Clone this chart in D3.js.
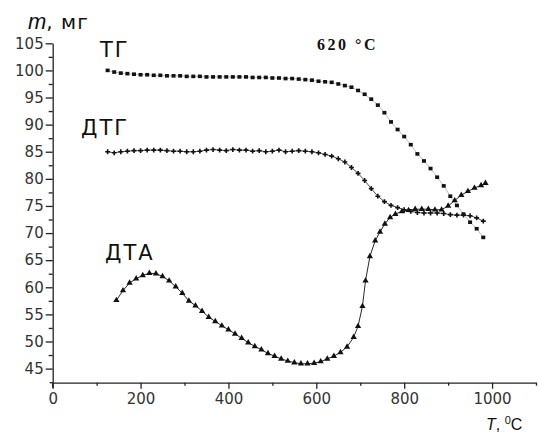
<!DOCTYPE html>
<html>
<head>
<meta charset="utf-8">
<script src="https://cdn.jsdelivr.net/npm/d3@7/dist/d3.min.js"></script>
<style>
    body { margin: 0; background: #fff; }
    svg { display: block; }
</style>
</head>
<body>
<svg id="chart"></svg>
<script>
// temperatures of the TG / DTG readings, °C
const thermoTemp = [125, 140, 155, 170, 185, 200, 215, 230, 245, 260, 275, 290, 305, 320, 335,
    350, 365, 380, 395, 410, 425, 440, 455, 470, 485, 500, 515, 530, 545, 560, 575, 590, 605,
    620, 635, 650, 665, 680, 695, 710, 725, 740, 755, 770, 785, 800, 815, 830, 845, 860, 875,
    890, 905, 920, 935, 950, 965, 980]

// ТГ
const tgMass = [100.0, 99.7, 99.5, 99.4, 99.3, 99.2, 99.2, 99.1, 99.1, 99.0, 99.0, 99.0, 98.9,
    98.9, 98.9, 98.8, 98.8, 98.8, 98.8, 98.8, 98.8, 98.8, 98.7, 98.7, 98.7, 98.6, 98.6, 98.5,
    98.5, 98.4, 98.3, 98.2, 98.0, 97.9, 97.8, 97.5, 97.2, 96.9, 96.3, 95.6, 94.7, 93.6, 92.2,
    90.5, 89.1, 87.8, 86.3, 84.6, 83.3, 81.9, 80.3, 78.7, 76.8, 75.1, 73.5, 72.0, 70.8, 69.2]

// ДТГ
const dtgValue = [85.0, 84.8, 85.0, 85.1, 85.2, 85.2, 85.3, 85.3, 85.3, 85.2, 85.1, 85.1, 85.0,
    85.0, 85.1, 85.3, 85.4, 85.3, 85.2, 85.4, 85.3, 85.3, 85.1, 85.2, 85.0, 85.1, 85.3, 85.0,
    85.1, 85.2, 85.1, 85.0, 84.8, 84.5, 84.2, 83.7, 83.1, 82.1, 81.0, 79.7, 78.2, 76.8, 75.8,
    75.1, 74.7, 74.3, 74.0, 73.8, 73.7, 73.7, 73.7, 73.6, 73.4, 73.3, 73.3, 73.2, 72.8, 72.2]

// ДТА
const dtaTemp = [145, 160, 175, 190, 205, 220, 235, 250, 265, 280, 295, 310, 325, 340, 355, 370,
    385, 400, 415, 430, 445, 460, 475, 490, 505, 520, 535, 550, 565, 580, 595, 610, 625, 640,
    655, 670, 685, 695, 705, 712, 722, 734, 745, 756, 768, 780, 795, 810, 825, 840, 855, 870,
    885, 900, 915, 930, 945, 960, 975, 985]
const dtaValue = [57.6, 59.4, 60.8, 61.6, 62.2, 62.6, 62.5, 62.0, 61.2, 60.1, 58.9, 57.5, 56.6,
    55.6, 54.5, 53.7, 52.9, 52.2, 51.4, 50.6, 49.8, 49.1, 48.5, 47.8, 47.3, 46.8, 46.4, 46.1,
    45.9, 45.9, 46.0, 46.3, 46.8, 47.3, 48.0, 49.0, 50.8, 52.8, 56.5, 61.2, 65.7, 68.6, 70.2,
    71.7, 72.9, 73.5, 74.0, 74.2, 74.4, 74.4, 74.4, 74.3, 74.3, 75.0, 76.0, 77.0, 77.7, 78.3,
    78.8, 79.2]

const xMajorTicks = [0, 200, 400, 600, 800, 1000]
const xMinorTicks = [100, 300, 500, 700, 900, 1100]
const yMajorTicks = [45, 50, 55, 60, 65, 70, 75, 80, 85, 90, 95, 100, 105]
const yMinorTicks = [47.5, 52.5, 57.5, 62.5, 67.5, 72.5, 77.5, 82.5, 87.5, 92.5, 97.5, 102.5]

const width = 541
const height = 434
const tickFont = 'DejaVu Sans, sans-serif'
const axisColor = '#222'

const svg = d3.select('#chart').attr('width', width).attr('height', height)

const x = d3.scaleLinear().domain([0, 1100]).range([52.7, 536])
const y = d3.scaleLinear().domain([42.4, 105]).range([382.7, 43.3])

// axes
const styleAxis = (g) => {
    g.selectAll('path, line').attr('stroke', axisColor).attr('stroke-width', 1.3)
    g.selectAll('text')
        .attr('font-family', tickFont)
        .attr('font-size', 15)
        .attr('fill', '#333')
}

svg.append('g')
    .attr('transform', `translate(0, ${y(42.4)})`)
    .call(d3.axisBottom(x).tickValues(xMajorTicks).tickFormat(d3.format('d'))
        .tickSize(6).tickSizeOuter(0).tickPadding(5))
    .call(styleAxis)

svg.append('g')
    .attr('transform', `translate(0, ${y(42.4)})`)
    .call(d3.axisBottom(x).tickValues(xMinorTicks).tickSize(3).tickSizeOuter(0).tickFormat(''))
    .call(g => g.select('.domain').remove())
    .call(styleAxis)

svg.append('g')
    .attr('transform', `translate(${x(0)}, 0)`)
    .call(d3.axisLeft(y).tickValues(yMajorTicks).tickSize(7).tickSizeOuter(0).tickPadding(2))
    .call(styleAxis)

svg.append('g')
    .attr('transform', `translate(${x(0)}, 0)`)
    .call(d3.axisLeft(y).tickValues(yMinorTicks).tickSize(4).tickSizeOuter(0).tickFormat(''))
    .call(g => g.select('.domain').remove())
    .call(styleAxis)

// small overhang where the axes cross
svg.append('line')
    .attr('x1', x(0)).attr('x2', x(0))
    .attr('y1', y(42.4)).attr('y2', y(42.4) + 5)
    .attr('stroke', axisColor).attr('stroke-width', 1.3)
svg.append('line')
    .attr('x1', x(0) - 3).attr('x2', x(0))
    .attr('y1', y(42.4)).attr('y2', y(42.4))
    .attr('stroke', axisColor).attr('stroke-width', 1.3)

// series
const tgData = thermoTemp.map((t, i) => ({ t, v: tgMass[i] }))
const dtgData = thermoTemp.map((t, i) => ({ t, v: dtgValue[i] }))
const dtaData = dtaTemp.map((t, i) => ({ t, v: dtaValue[i] }))

const line = d3.line().x(d => x(d.t)).y(d => y(d.v))

const plot = svg.append('g')

plot.append('path').datum(tgData)
    .attr('d', line).attr('fill', 'none')
    .attr('stroke', '#555').attr('stroke-width', 0.4)
plot.append('path').datum(dtgData)
    .attr('d', line).attr('fill', 'none')
    .attr('stroke', '#222').attr('stroke-width', 0.8)
plot.append('path').datum(dtaData)
    .attr('d', line).attr('fill', 'none')
    .attr('stroke', '#111').attr('stroke-width', 0.9)

plot.append('g').selectAll('rect').data(tgData).enter()
    .append('rect')
    .attr('x', d => x(d.t) - 2)
    .attr('y', d => y(d.v) - 1.8)
    .attr('width', 4)
    .attr('height', 3.6)
    .attr('fill', '#111')

const cross = d3.symbol().type(d3.symbolCross).size(13)
plot.append('g').selectAll('path').data(dtgData).enter()
    .append('path')
    .attr('d', cross)
    .attr('transform', d => `translate(${x(d.t)}, ${y(d.v)})`)
    .attr('fill', '#111')

const triangle = d3.symbol().type(d3.symbolTriangle).size(17)
plot.append('g').selectAll('path').data(dtaData).enter()
    .append('path')
    .attr('d', triangle)
    .attr('transform', d => `translate(${x(d.t)}, ${y(d.v)})`)
    .attr('fill', '#111')

// labels
const labelFont = 'DejaVu Sans, sans-serif'

const yTitle = svg.append('text')
    .attr('x', 28).attr('y', 29)
    .attr('font-family', labelFont)
    .attr('font-size', 20)
    .attr('fill', '#111')
yTitle.append('tspan')
    .attr('font-family', 'Liberation Sans, Arial, sans-serif')
    .attr('font-style', 'italic')
    .attr('font-size', 22)
    .text('m')
yTitle.append('tspan').attr('letter-spacing', 1).text(', мг')

const curveLabels = [
    { text: 'ТГ', x: 100, y: 57 },
    { text: 'ДТГ', x: 81, y: 135 },
    { text: 'ДТА', x: 105, y: 260 },
]
svg.append('g').selectAll('text').data(curveLabels).enter()
    .append('text')
    .attr('x', d => d.x)
    .attr('y', d => d.y)
    .attr('font-family', labelFont)
    .attr('font-size', 21)
    .attr('letter-spacing', 2)
    .attr('fill', '#111')
    .text(d => d.text)

svg.append('text')
    .attr('x', 317).attr('y', 50)
    .attr('font-family', 'Liberation Serif, serif')
    .attr('font-weight', 'bold')
    .attr('font-size', 16)
    .attr('letter-spacing', 2.5)
    .attr('fill', '#111')
    .text('620 °C')

const xTitle = svg.append('text')
    .attr('x', 486).attr('y', 430)
    .attr('font-family', 'Liberation Sans, Arial, sans-serif')
    .attr('font-size', 16)
    .attr('fill', '#111')
xTitle.append('tspan').attr('font-style', 'italic').text('T')
xTitle.append('tspan').text(', ')
xTitle.append('tspan').attr('font-size', 11).attr('dy', -6).text('0')
xTitle.append('tspan').attr('dy', 6).text('C')
</script>
</body>
</html>
